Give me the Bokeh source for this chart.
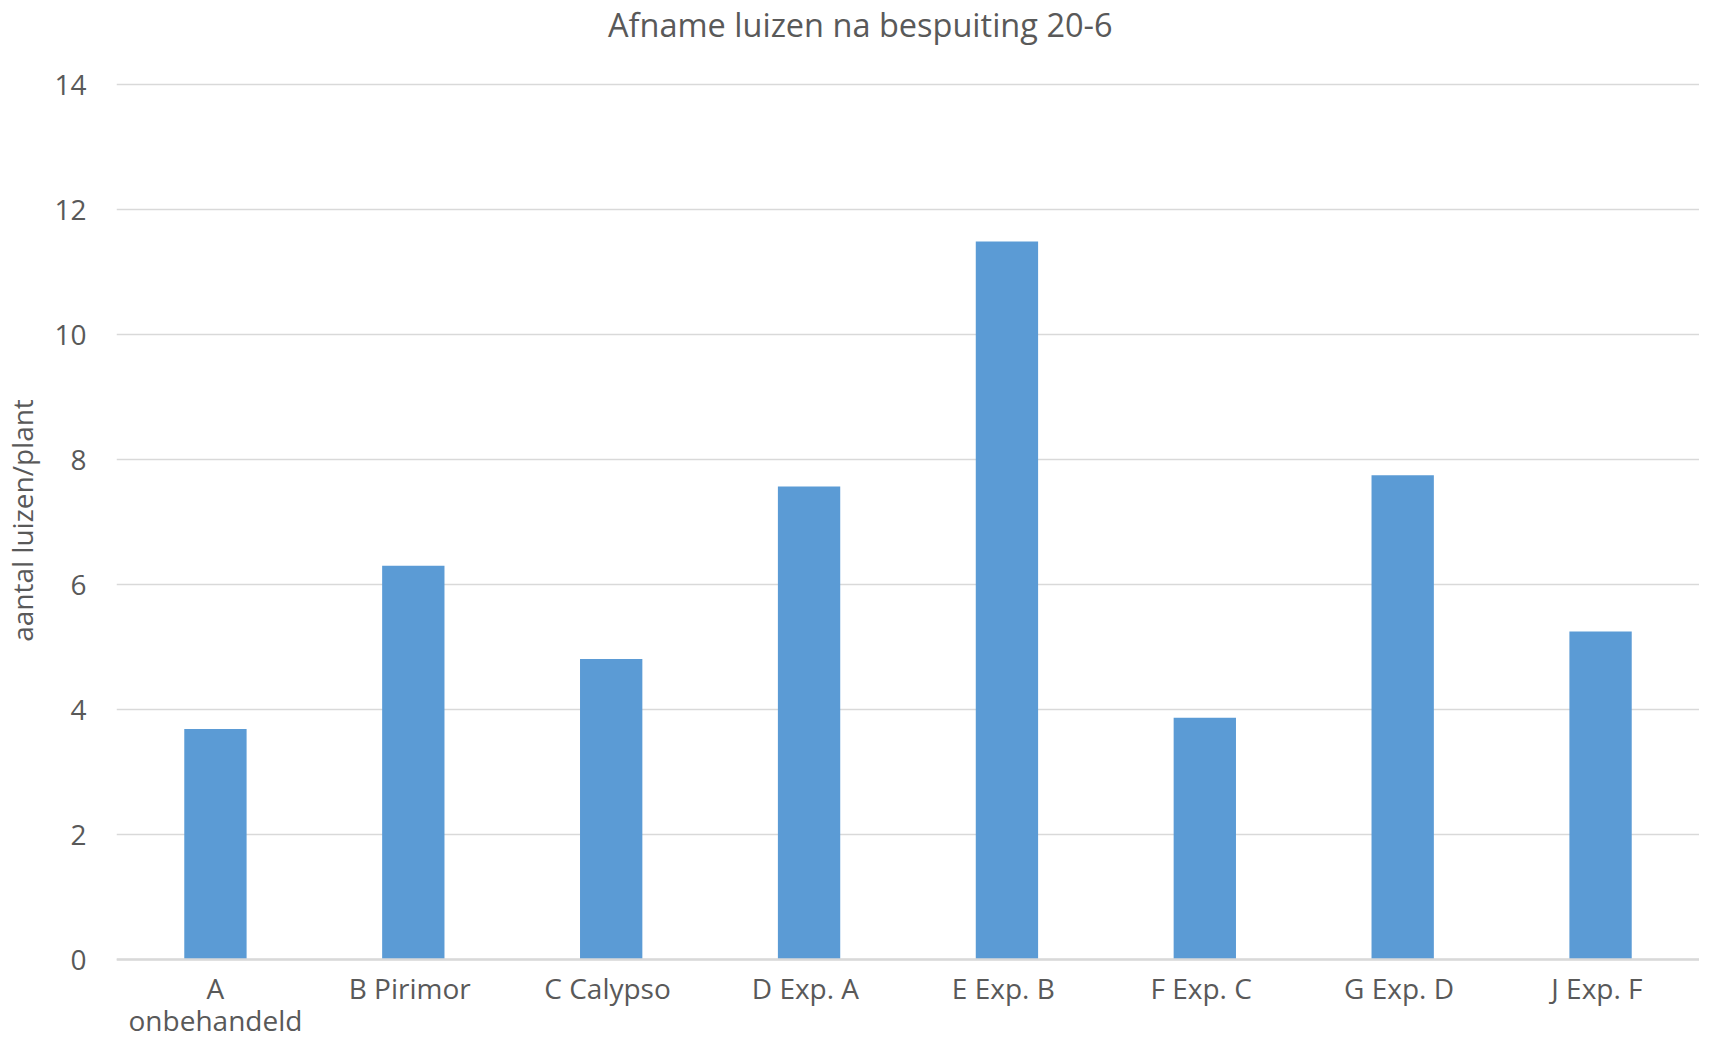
from bokeh.plotting import figure
from bokeh.models import FactorRange, Range1d, FixedTicker, Span
from bokeh.core.properties import value
from bokeh.embed import file_html
from bokeh.resources import INLINE

categories = ["A\nonbehandeld", "B  Pirimor", "C  Calypso", "D  Exp. A",
              "E  Exp. B", "F  Exp. C", "G  Exp. D", "J  Exp. F"]
values = [3.69, 6.30, 4.81, 7.57, 11.49, 3.87, 7.75, 5.25]
y_ticks = [0, 2, 4, 6, 8, 10, 12, 14]
title_text = "Afname luizen na bespuiting 20-6"
y_label = "aantal luizen/plant"

FONT = "Open Sans"
TXT = "#595959"
GRID = "#d9d9d9"
BAR = "#5b9bd5"

# frame fills the canvas height; the value axis is bounded to 0..14
p = figure(width=1699, height=1040, output_backend="svg", toolbar_location=None,
           x_range=FactorRange(factors=categories, range_padding=0),
           y_range=Range1d(-1.296, 15.344),
           x_axis_location=None,
           min_border_left=108, min_border_right=0, min_border_top=0, min_border_bottom=0,
           outline_line_color=None)

p.vbar(x=categories, top=values, width=0.315, bottom=0, fill_color=BAR, line_color=None)

# y axis
yax = p.yaxis[0]
yax.bounds = (0, 14)
yax.ticker = FixedTicker(ticks=y_ticks)
yax.axis_line_color = None
yax.major_tick_line_color = None
yax.minor_tick_line_color = None
yax.major_tick_out = 0
yax.major_label_standoff = 30
yax.major_label_text_font = FONT
yax.major_label_text_font_size = "28px"
yax.major_label_text_color = TXT
yax.axis_label = y_label
yax.axis_label_text_font = FONT
yax.axis_label_text_font_size = "28px"
yax.axis_label_text_font_style = "normal"
yax.axis_label_text_color = TXT
yax.axis_label_standoff = 10

p.xgrid.grid_line_color = None
p.ygrid.ticker = FixedTicker(ticks=y_ticks)
p.ygrid.grid_line_color = GRID
p.ygrid.grid_line_width = 1.5

# category axis line
p.add_layout(Span(location=0, dimension="width", line_color=GRID, line_width=2.5))

# category labels below the axis line
p.text(x=categories, y=[-0.144] * len(categories), text=categories,
       text_align="center", text_baseline="top", text_font=value(FONT),
       text_font_size="28px", text_color=TXT, text_line_height=0.866)

# chart title
p.text(x=[3.759], y=[14.966], text=[title_text], text_align="center",
       text_baseline="alphabetic", text_font=value(FONT), text_font_size="32.5px",
       text_color=TXT)

open("out.html", "w").write(file_html(p, INLINE))
